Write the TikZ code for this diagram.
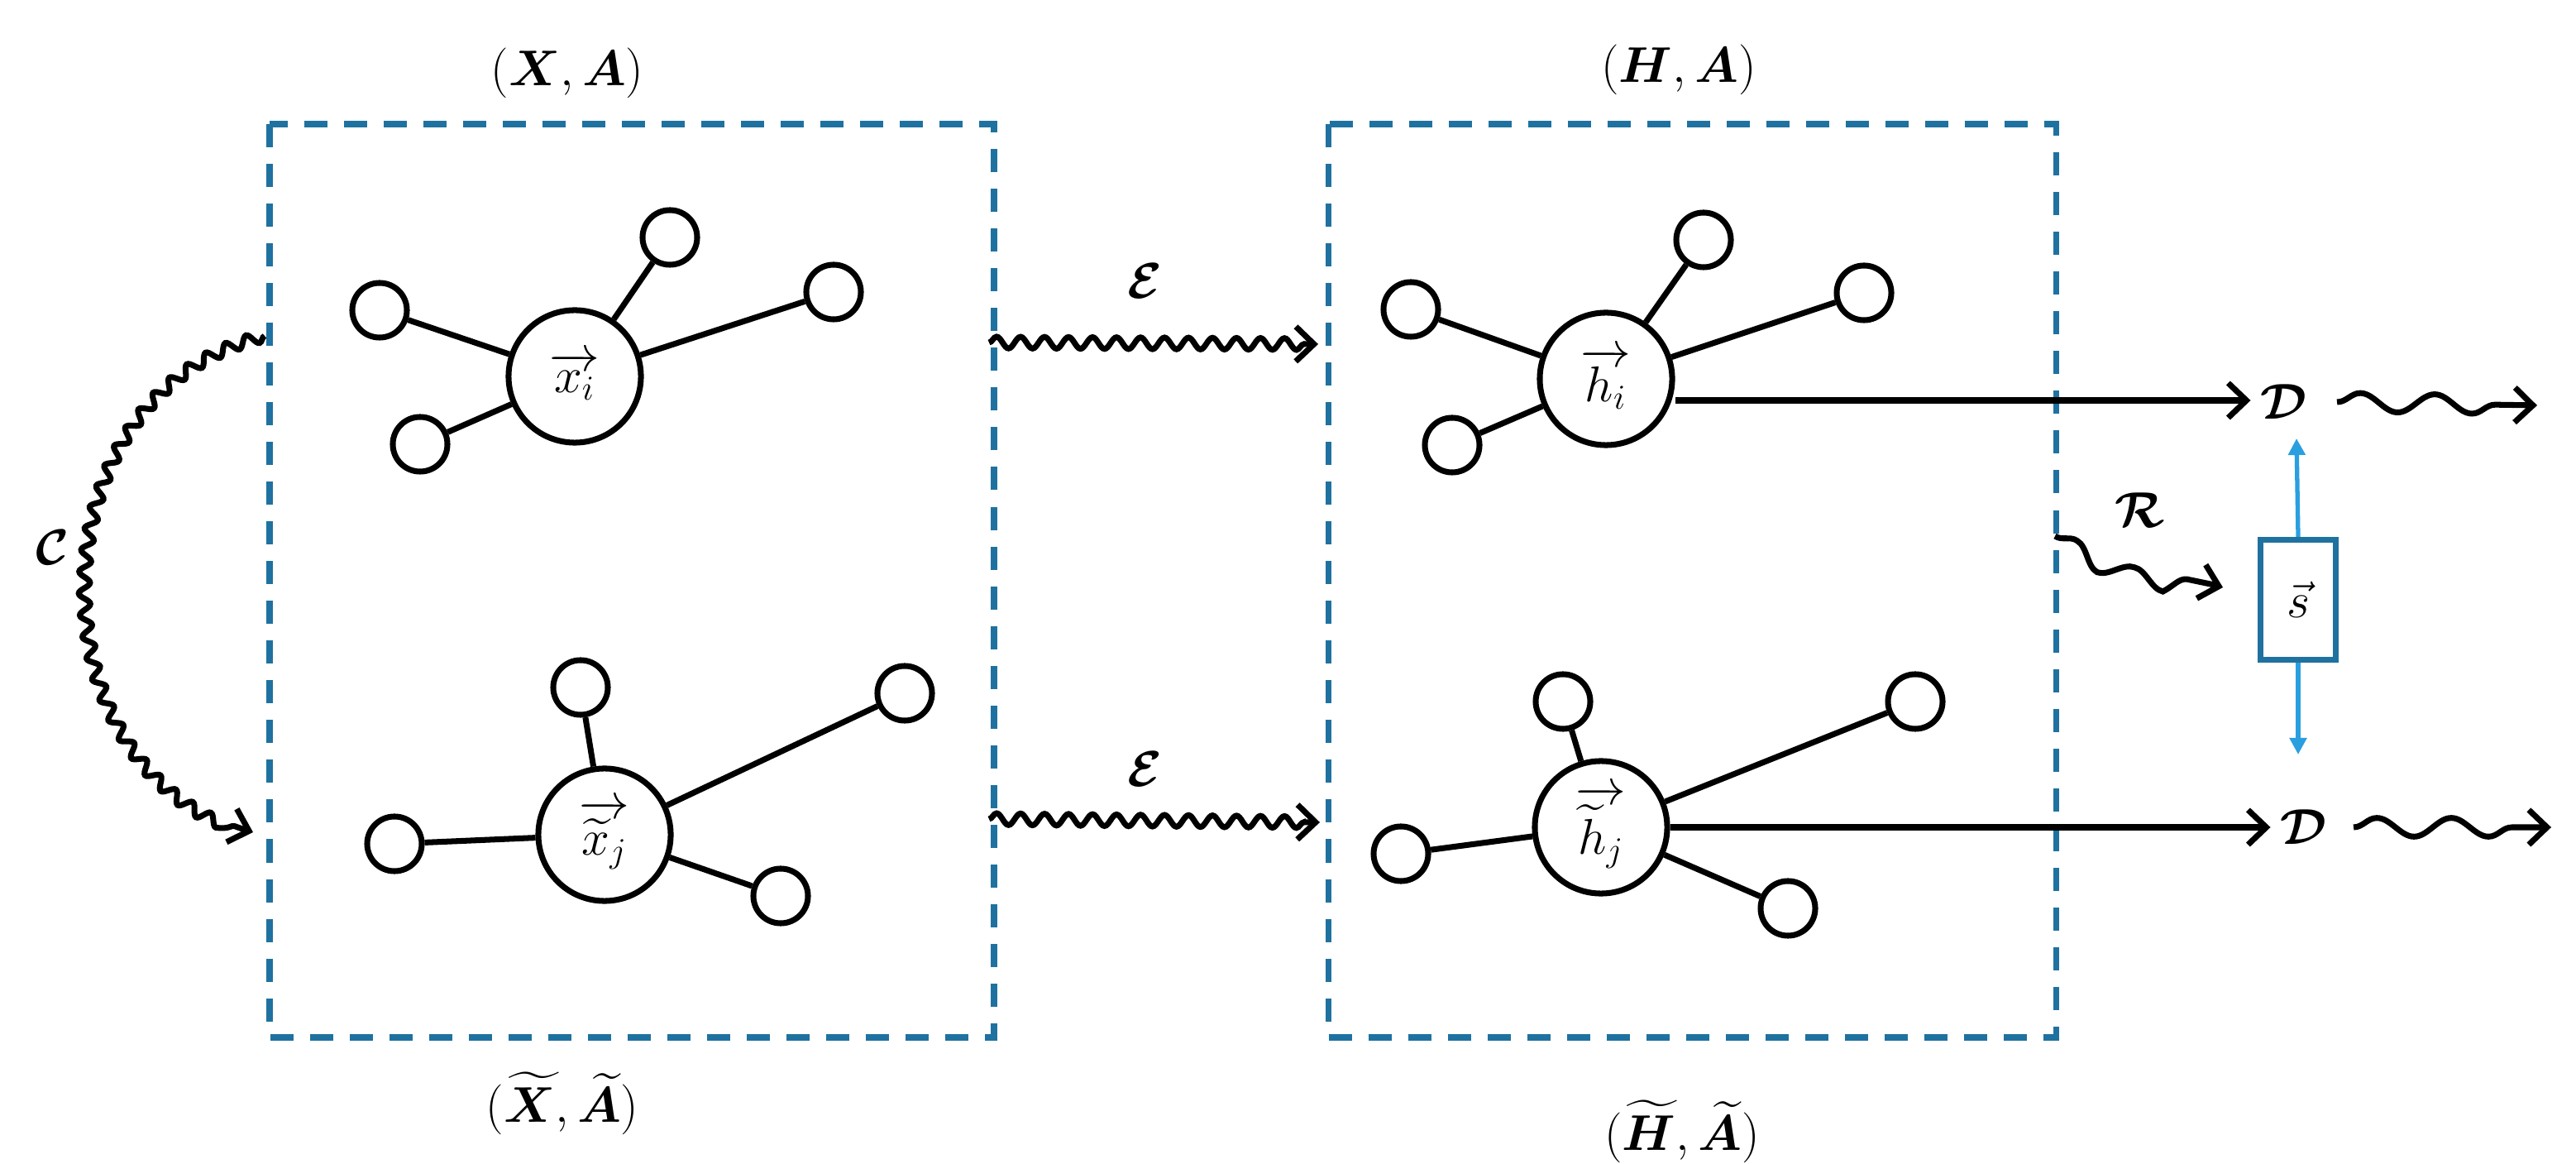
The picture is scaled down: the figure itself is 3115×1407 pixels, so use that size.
\documentclass[tikz,border=0pt]{standalone}
\usepackage{amsmath,bm}
\usetikzlibrary{arrows.meta,decorations.pathmorphing}
\definecolor{dblue}{HTML}{1F72A0}
\definecolor{lblue}{HTML}{2A9FDF}
\begin{document}
\begin{tikzpicture}[x=0.01cm,y=-0.01cm,
  ln/.style={line width=2pt,black},
  big/.style={circle,draw,line width=2pt,minimum size=1.6cm,inner sep=0pt,font=\fontsize{17}{20}\selectfont},
  sat/.style={circle,draw,line width=2pt,minimum size=0.66cm,inner sep=0pt},
  box/.style={draw=dblue,line width=2pt,dash pattern=on 0.28cm off 0.2cm},
  lab/.style={font=\fontsize{18}{22}\selectfont},
  tip/.style={-{Straight Barb[length=0.22cm,width=0.42cm,line width=2pt]}},
  wav/.style={ln,decorate,decoration={snake,segment length=#1,amplitude=0.05cm+0.07*#1,post length=0.15cm},tip},
  wav/.default=0.3cm,
  arr/.style={ln,tip},
  barr/.style={draw=lblue,line width=1.5pt,-{Triangle[length=0.2cm,width=0.2cm]}}]
\useasboundingbox (0,0) rectangle (3115,1407);
\draw[box] (326,150) rectangle (1202,1254);
\draw[box] (1606,150) rectangle (2486,1254);
\node[lab] (la1) at (686,88) {$(\bm{X},\bm{A})$};
\node[lab] (la2) at (680,1334) {$(\widetilde{\bm{X}},\widetilde{\bm{A}})$};
\node[lab] (la3) at (2030,84) {$(\bm{H},\bm{A})$};
\node[lab] (la4) at (2034,1368) {$(\widetilde{\bm{H}},\widetilde{\bm{A}})$};
% left top
\node[big] (xi) at (695,455) {$\overrightarrow{x_i}$};
\foreach \n/\p in {a/{(459,375)},b/{(810,287)},c/{(1008,353)},d/{(508,537)}}
  {\node[sat] (xi\n) at \p {}; \draw[ln] (xi) -- (xi\n);}
% left bottom
\node[big] (xj) at (731,1009) {$\overrightarrow{\widetilde{x}_j}$};
\foreach \n/\p in {a/{(702,831)},b/{(1094,838)},c/{(477,1020)},d/{(944,1083)}}
  {\node[sat] (xj\n) at \p {}; \draw[ln] (xj) -- (xj\n);}
% right top
\node[big] (hi) at (1942,458) {$\overrightarrow{h_i}$};
\foreach \n/\p in {a/{(1706,374)},b/{(2060,290)},c/{(2254,354)},d/{(1756,538)}}
  {\node[sat] (hi\n) at \p {}; \draw[ln] (hi) -- (hi\n);}
% right bottom
\node[big] (hj) at (1936,1000) {$\overrightarrow{\widetilde{h}_j}$};
\foreach \n/\p in {a/{(1890,848)},b/{(2316,848)},c/{(1694,1032)},d/{(2162,1098)}}
  {\node[sat] (hj\n) at \p {}; \draw[ln] (hj) -- (hj\n);}
% encoder arrows
\coordinate (e1s) at (1196,414); \coordinate (e1e) at (1594,416);
\coordinate (e2s) at (1196,990); \coordinate (e2e) at (1596,994);
\draw[wav=0.29cm] (e1s) -- (e1e);
\draw[wav=0.29cm] (e2s) -- (e2e);
\node[lab] (E1) at (1384,340) {$\bm{\mathcal{E}}$};
\node[lab] (E2) at (1384,930) {$\bm{\mathcal{E}}$};
% C curve
\coordinate (cs) at (320,406); \coordinate (ce) at (306,1006);
\draw[wav=0.26cm] (cs) .. controls (40,480) and (40,930) .. (ce);
\node[lab] (C) at (64,662) {$\bm{\mathcal{C}}$};
% D
\node[lab] (D1) at (2762,486) {$\bm{\mathcal{D}}$};
\node[lab] (D2) at (2786,1000) {$\bm{\mathcal{D}}$};
\draw[arr] (hi.east) ++(0,26) coordinate (hs) -- (D1.west |- hs);
\draw[arr] (hj.east) -- (D2.west |- hj.east);
\coordinate (w1s) at (2826,486); \coordinate (w1e) at (3068,490);
\coordinate (w2s) at (2846,1000); \coordinate (w2e) at (3085,1000);
\draw[wav=0.9cm] (w1s) -- (w1e);
\draw[wav=0.9cm] (w2s) -- (w2e);
% s box
\node[draw=dblue,line width=2pt,minimum width=0.91cm,minimum height=1.45cm,inner sep=0pt,font=\fontsize{17}{20}\selectfont] (s) at (2779,725) {$\vec{s}$};
\coordinate (su) at (2777,530); \coordinate (sd) at (2779,912);
\draw[barr] (s.north) -- (su);
\draw[barr] (s.south) -- (sd);
% R
\coordinate (rs) at (2485,648); \coordinate (re) at (2688,710);
\draw[wav=0.8cm] (rs) .. controls (2560,700) and (2620,690) .. (re);
\node[lab] (R) at (2588,617) {$\bm{\mathcal{R}}$};
\end{tikzpicture}
\end{document}
